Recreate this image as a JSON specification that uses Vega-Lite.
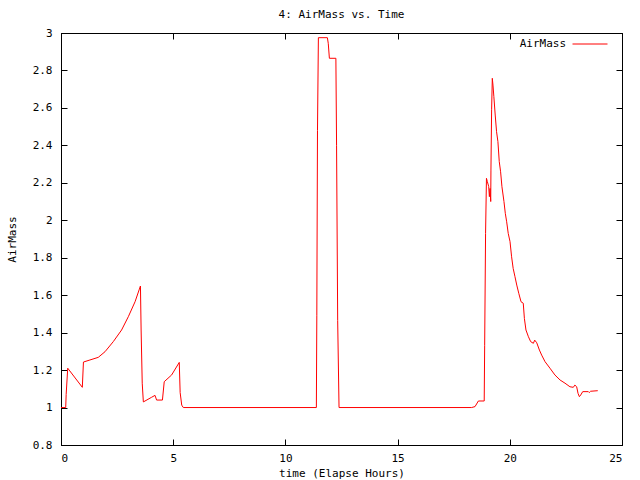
{
  "$schema": "https://vega.github.io/schema/vega-lite/v6.json",
  "width": 561,
  "height": 412,
  "autosize": "none",
  "padding": {"left": 61, "top": 33, "right": 18, "bottom": 35},
  "background": "white",
  "title": {"text": "4: AirMass vs. Time", "font": "DejaVu Sans Mono", "fontSize": 11, "fontWeight": "normal", "color": "black", "offset": 6},
  "config": {
    "view": {"stroke": "black", "strokeWidth": 1},
    "axis": {
      "labelFont": "DejaVu Sans Mono", "labelFontSize": 11, "labelColor": "black",
      "titleFont": "DejaVu Sans Mono", "titleFontSize": 11, "titleFontWeight": "normal", "titleColor": "black",
      "domainColor": "black", "tickColor": "black", "tickSize": -6, "grid": false
    },
    "legend": {"labelFont": "DejaVu Sans Mono", "labelFontSize": 11, "labelColor": "black"}
  },
  "data": {"values": [
    {"t": 0, "v": 1.0}, {"t": 0.21, "v": 1.0}, {"t": 0.23, "v": 1.07}, {"t": 0.30, "v": 1.21},
    {"t": 0.95, "v": 1.108}, {"t": 1.0, "v": 1.243}, {"t": 1.29, "v": 1.254}, {"t": 1.66, "v": 1.268},
    {"t": 1.96, "v": 1.298}, {"t": 2.33, "v": 1.352}, {"t": 2.70, "v": 1.414}, {"t": 3.0, "v": 1.485},
    {"t": 3.30, "v": 1.565}, {"t": 3.48, "v": 1.628}, {"t": 3.54, "v": 1.649}, {"t": 3.57, "v": 1.414},
    {"t": 3.62, "v": 1.13}, {"t": 3.67, "v": 1.03}, {"t": 4.04, "v": 1.055}, {"t": 4.19, "v": 1.065},
    {"t": 4.26, "v": 1.04}, {"t": 4.52, "v": 1.04}, {"t": 4.60, "v": 1.138}, {"t": 4.93, "v": 1.174},
    {"t": 5.27, "v": 1.241}, {"t": 5.31, "v": 1.08}, {"t": 5.38, "v": 1.013}, {"t": 5.45, "v": 1.0},
    {"t": 11.38, "v": 1.0}, {"t": 11.40, "v": 1.49}, {"t": 11.43, "v": 2.48}, {"t": 11.47, "v": 2.975},
    {"t": 11.87, "v": 2.975}, {"t": 11.91, "v": 2.945}, {"t": 11.96, "v": 2.865}, {"t": 12.25, "v": 2.865},
    {"t": 12.28, "v": 2.398}, {"t": 12.33, "v": 1.464}, {"t": 12.39, "v": 1.0}, {"t": 18.30, "v": 1.0},
    {"t": 18.45, "v": 1.005}, {"t": 18.60, "v": 1.035}, {"t": 18.86, "v": 1.035}, {"t": 18.88, "v": 1.33},
    {"t": 18.92, "v": 1.93}, {"t": 18.96, "v": 2.224}, {"t": 19.0, "v": 2.206}, {"t": 19.06, "v": 2.18},
    {"t": 19.09, "v": 2.126}, {"t": 19.12, "v": 2.17}, {"t": 19.15, "v": 2.10}, {"t": 19.16, "v": 2.268},
    {"t": 19.19, "v": 2.59}, {"t": 19.22, "v": 2.758}, {"t": 19.25, "v": 2.722}, {"t": 19.29, "v": 2.66},
    {"t": 19.35, "v": 2.562}, {"t": 19.41, "v": 2.473}, {"t": 19.47, "v": 2.42}, {"t": 19.53, "v": 2.313},
    {"t": 19.59, "v": 2.259}, {"t": 19.65, "v": 2.179}, {"t": 19.74, "v": 2.10}, {"t": 19.80, "v": 2.037},
    {"t": 19.86, "v": 1.992}, {"t": 19.93, "v": 1.93}, {"t": 20.01, "v": 1.886}, {"t": 20.08, "v": 1.805},
    {"t": 20.15, "v": 1.743}, {"t": 20.23, "v": 1.699}, {"t": 20.31, "v": 1.654}, {"t": 20.40, "v": 1.61},
    {"t": 20.50, "v": 1.565}, {"t": 20.60, "v": 1.557}, {"t": 20.65, "v": 1.476}, {"t": 20.72, "v": 1.414},
    {"t": 20.83, "v": 1.378}, {"t": 20.93, "v": 1.352}, {"t": 21.05, "v": 1.343}, {"t": 21.11, "v": 1.36},
    {"t": 21.20, "v": 1.346}, {"t": 21.32, "v": 1.307}, {"t": 21.42, "v": 1.28}, {"t": 21.57, "v": 1.245},
    {"t": 21.79, "v": 1.21}, {"t": 22.01, "v": 1.174}, {"t": 22.24, "v": 1.147}, {"t": 22.46, "v": 1.13},
    {"t": 22.68, "v": 1.111}, {"t": 22.83, "v": 1.108}, {"t": 22.90, "v": 1.12}, {"t": 22.98, "v": 1.111},
    {"t": 23.04, "v": 1.076}, {"t": 23.10, "v": 1.058}, {"t": 23.16, "v": 1.067}, {"t": 23.25, "v": 1.085},
    {"t": 23.50, "v": 1.085}, {"t": 23.54, "v": 1.08}, {"t": 23.60, "v": 1.087}, {"t": 23.92, "v": 1.09}
  ]},
  "transform": [{"calculate": "'AirMass'", "as": "series"}],
  "layer": [
    {
      "mark": {"type": "line", "strokeWidth": 1, "interpolate": "linear"},
      "encoding": {
        "x": {"field": "t", "type": "quantitative", "scale": {"domain": [0, 25], "nice": false, "zero": false},
              "axis": {"orient": "bottom", "title": "time (Elapse Hours)", "values": [0, 5, 10, 15, 20, 25], "labelPadding": 13, "titlePadding": 4}},
        "y": {"field": "v", "type": "quantitative", "scale": {"domain": [0.8, 3], "nice": false, "zero": false},
              "axis": {"orient": "left", "title": "AirMass", "values": [0.8, 1, 1.2, 1.4, 1.6, 1.8, 2, 2.2, 2.4, 2.6, 2.8, 3], "format": "~g", "labelPadding": 15, "titlePadding": 15}},
        "color": {"field": "series", "type": "nominal", "scale": {"domain": ["AirMass"], "range": ["#ff0000"]},
                  "legend": {"title": null, "orient": "none", "legendX": 511, "legendY": -7, "symbolType": "stroke", "symbolSize": 1225, "symbolStrokeWidth": 1, "labelAlign": "right", "labelOffset": -42, "padding": 0}}
      }
    },
    {
      "mark": {"type": "line", "opacity": 0},
      "encoding": {
        "x": {"field": "t", "type": "quantitative", "axis": {"orient": "top", "labels": false, "title": null, "values": [0, 5, 10, 15, 20, 25]}},
        "y": {"field": "v", "type": "quantitative", "axis": {"orient": "right", "labels": false, "title": null, "values": [0.8, 1, 1.2, 1.4, 1.6, 1.8, 2, 2.2, 2.4, 2.6, 2.8, 3]}}
      }
    }
  ],
  "resolve": {"axis": {"x": "independent", "y": "independent"}}
}
